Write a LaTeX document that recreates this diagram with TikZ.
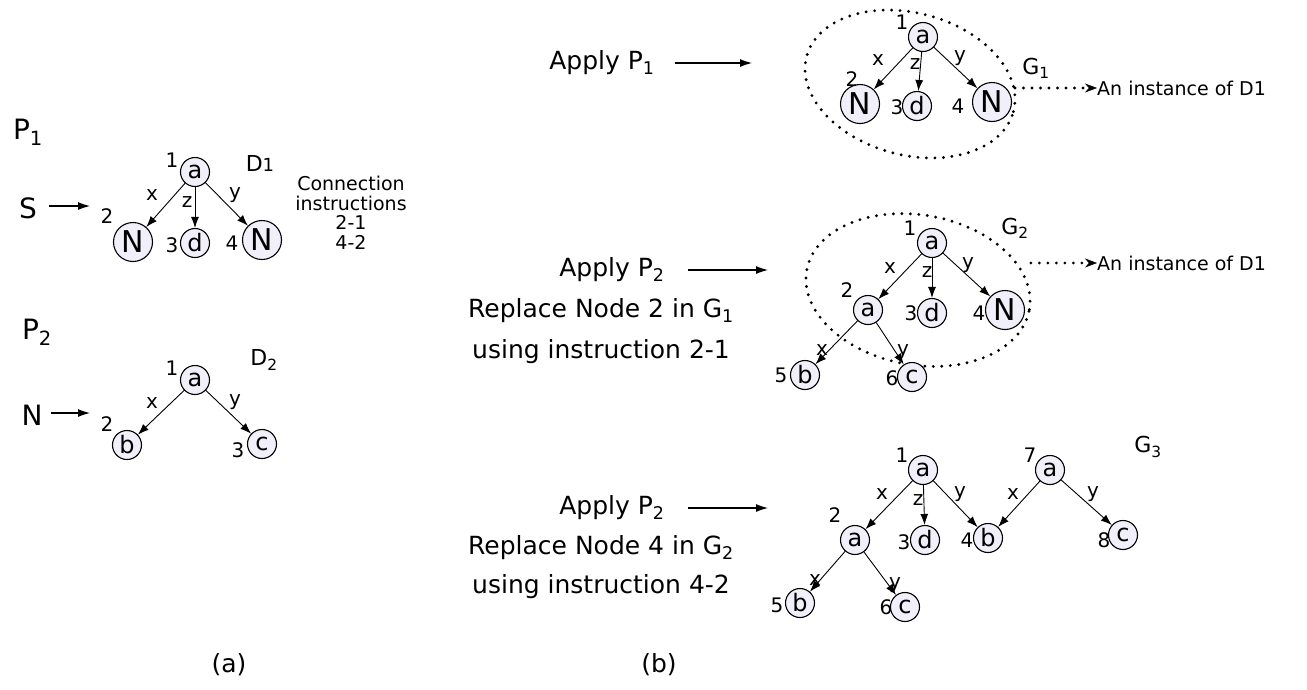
\documentclass[tikz,border=0pt]{standalone}
\usepackage{fontspec}
\setmainfont{DejaVu Sans}
\usetikzlibrary{arrows.meta,shapes.geometric}
\definecolor{nodefill}{RGB}{241,239,250}
\newcommand{\sbs}[1]{\textsubscript{#1}}
\begin{document}
\begin{tikzpicture}[x=1pt,y=-1pt,
  vtx/.style={circle,draw,line width=1.1pt,fill=nodefill,inner sep=0pt,minimum size=29pt,font=\fontsize{24}{24}\selectfont},
  bigvtx/.style={vtx,minimum size=39pt,font=\fontsize{30}{30}\selectfont},
  num/.style={inner sep=0pt,font=\fontsize{20}{20}\selectfont},
  txt/.style={inner sep=0pt,font=\fontsize{25}{25}\selectfont},
  big/.style={inner sep=0pt,font=\fontsize{28}{28}\selectfont},
  gname/.style={inner sep=0pt,font=\fontsize{22}{22}\selectfont},
  note/.style={inner sep=0pt,font=\fontsize{19}{19.5}\selectfont},
  edge/.style={line width=0.9pt,-{Latex[length=11pt,width=8pt]}},
  plain/.style={line width=1.1pt,-{Latex[length=12pt,width=8pt]}},
  dots/.style={line width=3.2pt,line cap=round,dash pattern=on 0pt off 8.5pt},
  dotarrow/.style={dots,-{Stealth[length=12pt,width=9pt,line width=0.5pt]}},
  ring/.style={ellipse,dots,draw,inner sep=0pt},
]
\useasboundingbox (0,0) rectangle (1307,689);

% ---------- (a) production P1 ----------
\node[big] (p1) at (28,132) {P\sbs{1}};
\node[big] (s) at (28,208) {S};
\node[num] (s2) at (107,216) {2};
\draw[plain] (49,206) coordinate (s0) -- (90,206) coordinate (s1);
\node[vtx] (a1) at (195,172) {a};
\node[num] at (172,160) {1};
\node[gname] (d1) at (260,163) {D{\fontsize{18}{18}\selectfont 1}};
\node[bigvtx] (n2) at (133,242) {N};
\node[vtx] (d3) at (195,243) {d};
\node[bigvtx] (n4) at (262,240) {N};
\node[num] at (172,245) {3};
\node[num] at (232,243) {4};
\draw[edge] (a1) -- (n2);
\draw[edge] (a1) -- (d3);
\draw[edge] (a1) -- (n4);
\node[num] at (152,195) {x};
\node[num] at (187,202) {z};
\node[num] at (235,195) {y};
\node[note,align=center] (conn) at (351,213) {Connection\\instructions\\2-1\\4-2};

% ---------- (a) production P2 ----------
\node[big] (p2) at (37,332) {P\sbs{2}};
\node[big] (nn) at (32,415) {N};
\draw[plain] (51,413) coordinate (n0) -- (90,413) coordinate (n1);
\node[num] at (107,424) {2};
\node[vtx] (pa) at (195,380) {a};
\node[num] at (172,368) {1};
\node[gname] (d2) at (264,360) {D\sbs{2}};
\node[vtx] (pb) at (127,445) {b};
\node[vtx] (pc) at (262,444) {c};
\node[num] at (238,450) {3};
\draw[edge] (pa) -- (pb);
\draw[edge] (pa) -- (pc);
\node[num] at (152,403) {x};
\node[num] at (235,402) {y};

\node[txt] (cap1) at (229,665) {(a)};

% ---------- (b) step 1 ----------
\node[txt] (ap1) at (602,63) {Apply P\sbs{1}};
\draw[plain] (675,63) coordinate (ap1s) -- (752,63) coordinate (ap1e);
\node[ring,minimum width=214pt,minimum height=142pt,rotate=-15] (r1) at (910,84) {};
\node[vtx] (ga) at (923,37) {a};
\node[num] at (902,22) {1};
\node[bigvtx] (gn2) at (860,104) {N};
\node[num] at (852,79) {2};
\node[vtx] (gd) at (917,106) {d};
\node[num] at (897,107) {3};
\node[bigvtx] (gn4) at (992,102) {N};
\node[num] at (958,106) {4};
\draw[edge] (ga) -- (gn2);
\draw[edge] (ga) -- (gd);
\draw[edge] (ga) -- (gn4);
\node[num] at (878,60) {x};
\node[num] at (915,64) {z};
\node[num] at (960,58) {y};
\node[gname] (g1) at (1036,68) {G\sbs{1}};
\node[note,anchor=west] (inst1) at (1097,88) {An instance of D1};
\draw[dotarrow] (inst1.west -| r1.east) -- (inst1.west);

% ---------- (b) step 2 ----------
\node[gname] (g2) at (1015,228) {G\sbs{2}};
\node[txt] (ap2) at (612,270) {Apply P\sbs{2}};
\draw[plain] (688,270) coordinate (ap2s) -- (768,270) coordinate (ap2e);
\node[txt] (rp2) at (601,311) {Replace Node 2 in G\sbs{1}};
\node[txt] (us2) at (601,352) {using instruction 2-1};
\node[ring,minimum width=226pt,minimum height=150pt,rotate=-10] (r2) at (918,290) {};
\node[vtx] (ha1) at (932,243) {a};
\node[num] at (910,228) {1};
\node[vtx] (ha2) at (868,310) {a};
\node[num] at (847,290) {2};
\node[vtx] (hd) at (932,313) {d};
\node[num] at (911,313) {3};
\node[bigvtx] (hn) at (1005,310) {N};
\node[num] at (979,313) {4};
\node[vtx] (hb) at (805,375) {b};
\node[num] at (781,375) {5};
\node[vtx] (hc) at (912,377) {c};
\node[num] at (892,378) {6};
\draw[edge] (ha1) -- (ha2);
\draw[edge] (ha1) -- (hd);
\draw[edge] (ha1) -- (hn);
\draw[edge] (ha2) -- (hb);
\draw[edge] (ha2) -- (hc);
\node[num] at (890,268) {x};
\node[num] at (927,272) {z};
\node[num] at (968,265) {y};
\node[num] at (822,350) {x};
\node[num] at (903,352) {y};
\node[note,anchor=west] (inst2) at (1097,263) {An instance of D1};
\draw[dotarrow] (inst2.west -| r2.east) -- (inst2.west);

% ---------- (b) step 3 ----------
\node[gname] (g3) at (1148,447) {G\sbs{3}};
\node[txt] (ap3) at (612,508) {Apply P\sbs{2}};
\draw[plain] (688,508) coordinate (ap3s) -- (768,508) coordinate (ap3e);
\node[txt] (rp3) at (601,548) {Replace Node 4 in G\sbs{2}};
\node[txt] (us3) at (601,587) {using instruction 4-2};
\node[vtx] (ka1) at (923,470) {a};
\node[num] at (902,455) {1};
\node[vtx] (ka7) at (1050,470) {a};
\node[num] at (1030,455) {7};
\node[vtx] (ka2) at (855,540) {a};
\node[num] at (835,515) {2};
\node[vtx] (kd) at (925,540) {d};
\node[num] at (904,542) {3};
\node[vtx] (kb4) at (988,538) {b};
\node[num] at (967,540) {4};
\node[vtx] (kc8) at (1123,535) {c};
\node[num] at (1104,540) {8};
\node[vtx] (kb5) at (800,603) {b};
\node[num] at (777,605) {5};
\node[vtx] (kc6) at (905,607) {c};
\node[num] at (886,607) {6};
\draw[edge] (ka1) -- (ka2);
\draw[edge] (ka1) -- (kd);
\draw[edge] (ka1) -- (kb4);
\draw[edge] (ka7) -- (kb4);
\draw[edge] (ka7) -- (kc8);
\draw[edge] (ka2) -- (kb5);
\draw[edge] (ka2) -- (kc6);
\node[num] at (882,494) {x};
\node[num] at (918,500) {z};
\node[num] at (960,494) {y};
\node[num] at (1013,494) {x};
\node[num] at (1093,494) {y};
\node[num] at (815,580) {x};
\node[num] at (895,585) {y};

\node[txt] (cap2) at (659,665) {(b)};
\end{tikzpicture}
\end{document}
